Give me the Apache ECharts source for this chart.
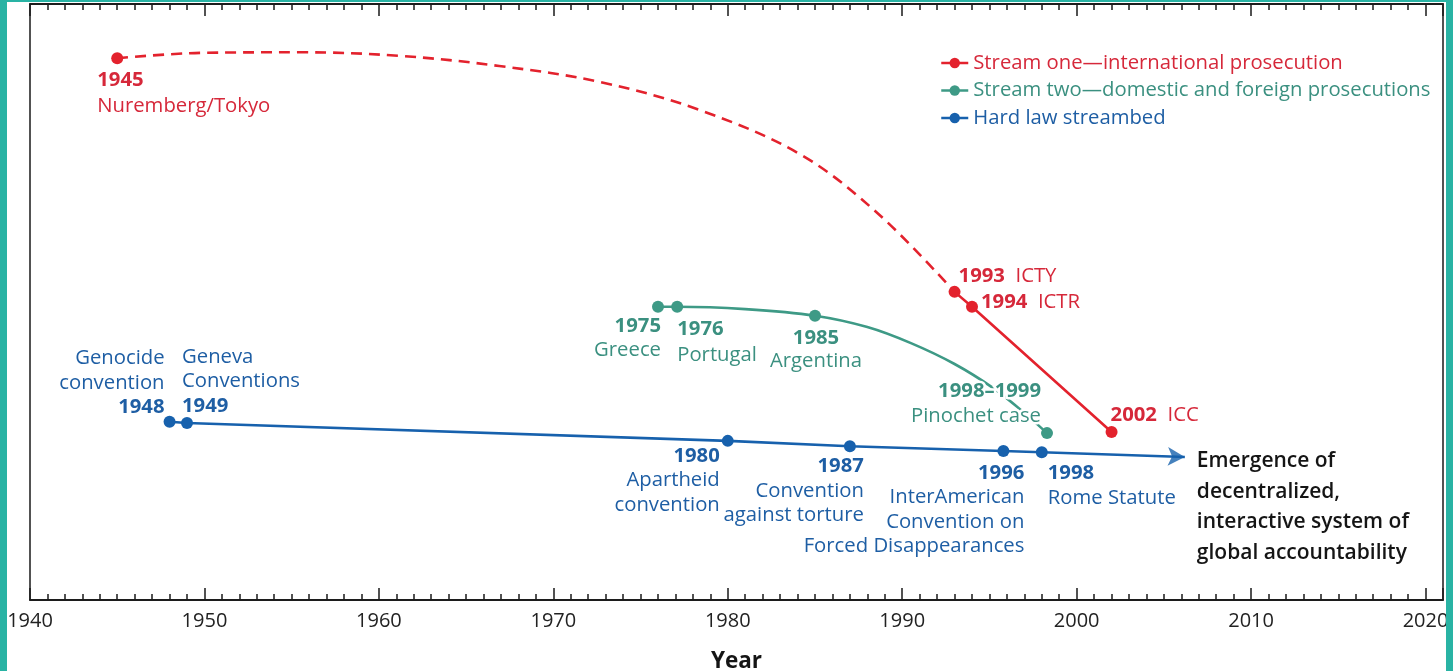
<!DOCTYPE html>
<html><head><meta charset="utf-8">
<script src="https://cdn.jsdelivr.net/npm/echarts@6/dist/echarts.min.js"></script>
<style>
html,body{margin:0;padding:0;background:#29b3a4;width:1453px;height:671px;overflow:hidden}
#c{position:absolute;left:7px;top:2px;width:1439px;height:669px;background:#fff}
</style>
</head><body><div id="c"></div>
<script>
// ---------- DATA ----------
const xTickLabels = [1940, 1950, 1960, 1970, 1980, 1990, 2000, 2010, 2020];
const seriesNames = ['Stream one\u2014international prosecution', 'Stream two\u2014domestic and foreign prosecutions', 'Hard law streambed'];

// Stream one (events)
const redYears  = [1945, 1993, 1994, 2002];
const redLevels = [90.9, 51.7, 49.2, 28.2];
const redTitles = ['1945', '1993', '1994', '2002'];
const redNames  = ['Nuremberg/Tokyo', 'ICTY', 'ICTR', 'ICC'];
// dashed path between 1945 and 1993
const redCurveYears  = [1949.8, 1955.5, 1961.2, 1966.9, 1972.7, 1978.4, 1984.2, 1988.7];
const redCurveLevels = [91.8, 91.9, 91.3, 89.6, 86.9, 82.2, 74.7, 64.6];

// Stream two (events)
const greenYears  = [1976, 1977.1, 1985, 1998.3];
const greenLevels = [49.2, 49.2, 47.7, 28.0];
const greenTitles = ['1975', '1976', '1985', '1998\u20131999'];
const greenNames  = ['Greece', 'Portugal', 'Argentina', 'Pinochet case'];
// path points between events
const greenCurveYears  = [1981, 1988, 1990.5, 1993, 1995.2, 1996.8];
const greenCurveLevels = [48.8, 45.8, 43.1, 39.6, 35.6, 31.9];

// Hard law streambed
const blueYears  = [1948, 1949, 1980, 1987, 1995.8, 1998];
const blueLevels = [29.9, 29.7, 26.7, 25.8, 25.0, 24.8];
const blueTitles = ['1948', '1949', '1980', '1987', '1996', '1998'];
const blueNames  = ['Genocide|convention', 'Geneva|Conventions', 'Apartheid|convention', 'Convention|against torture', 'InterAmerican|Convention on|Forced Disappearances', 'Rome Statute'];
const blueArrowYear = 2006.2;
const blueArrowLevel = 24.0;
const outcomeLines = ['Emergence of', 'decentralized,', 'interactive system of', 'global accountability'];

// ---------- STYLE / LAYOUT ----------
const RED = '#e3222d', RED_T = '#d6283a';
const GREEN = '#3e9a86', GREEN_T = '#3b9080';
const BLUE = '#1761ad', BLUE_T = '#1e5ea4';
const FONT = '"Open Sans", "Noto Sans", sans-serif';
const FS = 20.3;
const DOT = 12;

// label layouts: [align, verticalAlign, dx, dy, lineHeight, mode]
const redLayout = [
  ['left', 'top', -20, 9, 26, 'stack'],
  ['left', 'middle', 4, -16, 26, 'inline'],
  ['left', 'middle', 9, -5, 26, 'inline'],
  ['left', 'middle', -1, -17, 26, 'inline']
];
const greenLayout = [
  ['right', 'top', 3, 7, 24, 'stack'],
  ['left', 'top', 0, 9, 26, 'stack'],
  ['center', 'top', 1, 11, 23, 'stack'],
  ['right', 'bottom', -6, -4, 25, 'stack']
];
const blueLayout = [
  ['right', 'bottom', -5, -2, 24.5, 'yearLast'],
  ['left', 'bottom', -5, -5, 24.5, 'yearLast'],
  ['right', 'top', -8, 3, 24.5, 'stack'],
  ['right', 'top', 14, 8, 24.5, 'stack'],
  ['right', 'top', 21, 10, 24.3, 'stack'],
  ['left', 'top', 6, 9, 24.5, 'stack']
];

function makeLabel(title, name, layout, color, halo) {
  const [align, vAlign, dx, dy, lh, mode] = layout;
  const nameParts = name.split('|').map(s => '{n|' + s + '}');
  let fmt;
  if (mode === 'inline') fmt = '{b|' + title + '}  {n|' + name + '}';
  else if (mode === 'yearLast') fmt = nameParts.join('\n') + '\n{b|' + title + '}';
  else fmt = '{b|' + title + '}\n' + nameParts.join('\n');
  const base = { fontFamily: FONT, fontSize: FS, color: color, lineHeight: lh };
  if (halo) { base.textBorderColor = '#fff'; base.textBorderWidth = 5; }
  return {
    show: true,
    position: ['50%', '50%'],
    align: align,
    verticalAlign: vAlign,
    offset: [dx, dy],
    formatter: fmt,
    fontFamily: FONT, fontSize: FS, color: color, lineHeight: lh,
    rich: {
      b: Object.assign({}, base, { fontWeight: 'bold' }),
      n: Object.assign({}, base, { fontWeight: 'normal' })
    }
  };
}

function eventItem(x, y, title, name, layout, color, halo) {
  return { value: [x, y], symbolSize: DOT, label: makeLabel(title, name, layout, color, halo) };
}
function pathItem(x, y) { return { value: [x, y], symbolSize: 0, label: { show: false } }; }

// red dashed: 1945 origin + curve + 1993
const redDashData = [eventItem(redYears[0], redLevels[0], redTitles[0], redNames[0], redLayout[0], RED_T)]
  .concat(redCurveYears.map((x, i) => pathItem(x, redCurveLevels[i])))
  .concat([pathItem(redYears[1], redLevels[1])]);
const redSolidData = redYears.slice(1).map((x, i) =>
  eventItem(x, redLevels[i + 1], redTitles[i + 1], redNames[i + 1], redLayout[i + 1], RED_T));

const greenData = greenYears.map((x, i) => eventItem(x, greenLevels[i], greenTitles[i], greenNames[i], greenLayout[i], GREEN_T, true))
  .concat(greenCurveYears.map((x, i) => pathItem(x, greenCurveLevels[i])))
  .sort((a, b) => a.value[0] - b.value[0]);

const blueData = blueYears.map((x, i) => eventItem(x, blueLevels[i], blueTitles[i], blueNames[i], blueLayout[i], BLUE_T));
blueData.push({
  value: [blueArrowYear, blueArrowLevel], symbolSize: 0,
  label: {
    show: true, position: ['50%', '50%'], align: 'left', verticalAlign: 'top', offset: [12, -11],
    formatter: outcomeLines.join('\n'),
    fontFamily: FONT, fontSize: 21, fontWeight: 600, color: '#151515', lineHeight: 30.5
  }
});

const tickAxisCommon = {
  type: 'value', min: 1940, max: 2021, gridIndex: 0,
  splitLine: { show: false },
  axisLine: { show: true, lineStyle: { color: '#1a1a1a', width: 1.5 } }
};

const option = {
  animation: false,
  backgroundColor: '#fff',
  grid: { left: 23, right: 3, top: 2, bottom: 71, show: true, borderColor: '#1a1a1a', borderWidth: 1.5,
    containLabel: false, outerBoundsMode: 'none' },
  legend: {
    orient: 'vertical', left: 928, top: 46, itemGap: 7.5, itemWidth: 27, itemHeight: 13,
    textStyle: { fontFamily: FONT, fontSize: FS },
    data: [
      { name: seriesNames[0], textStyle: { color: RED_T }, lineStyle: { type: 'solid', color: RED, width: 2.5 }, itemStyle: { color: RED } },
      { name: seriesNames[1], textStyle: { color: GREEN_T }, lineStyle: { type: 'solid', color: GREEN, width: 2.5 }, itemStyle: { color: GREEN } },
      { name: seriesNames[2], textStyle: { color: BLUE_T }, lineStyle: { type: 'solid', color: BLUE, width: 2.5 }, itemStyle: { color: BLUE } }
    ],
    selectedMode: false
  },
  xAxis: [
    Object.assign({}, tickAxisCommon, {
      position: 'bottom', interval: 10,
      axisTick: { show: true, inside: true, length: 12, lineStyle: { color: '#1a1a1a', width: 1.5 } },
      axisLabel: { show: true, margin: 11, fontFamily: FONT, fontSize: 20, color: '#222',
        formatter: v => (xTickLabels.indexOf(v) >= 0 ? String(v) : '') },
      name: 'Year', nameLocation: 'middle', nameGap: 50,
      nameTextStyle: { fontFamily: FONT, fontSize: 22.5, fontWeight: 'bold', color: '#151515' }
    }),
    Object.assign({}, tickAxisCommon, {
      position: 'bottom', interval: 1,
      axisTick: { show: true, inside: true, length: 6, lineStyle: { color: '#1a1a1a', width: 1.5 } },
      axisLabel: { show: false }
    }),
    Object.assign({}, tickAxisCommon, {
      position: 'top', interval: 10,
      axisTick: { show: true, inside: true, length: 12, lineStyle: { color: '#1a1a1a', width: 1.5 } },
      axisLabel: { show: false }
    }),
    Object.assign({}, tickAxisCommon, {
      position: 'top', interval: 1,
      axisTick: { show: true, inside: true, length: 6, lineStyle: { color: '#1a1a1a', width: 1.5 } },
      axisLabel: { show: false }
    })
  ],
  yAxis: { type: 'value', min: 0, max: 100, show: false },
  series: [
    {
      name: seriesNames[0], type: 'line', xAxisIndex: 0, smooth: 0.35,
      data: redDashData, symbol: 'circle',
      lineStyle: { color: RED, width: 2.6, type: [11, 7] }, itemStyle: { color: RED }, z: 3
    },
    {
      name: seriesNames[0], type: 'line', xAxisIndex: 0,
      data: redSolidData, symbol: 'circle',
      lineStyle: { color: RED, width: 2.6 }, itemStyle: { color: RED }, z: 3
    },
    {
      name: seriesNames[1], type: 'line', xAxisIndex: 0, smooth: 0.3,
      data: greenData, symbol: 'circle',
      lineStyle: { color: GREEN, width: 2.6 }, itemStyle: { color: GREEN }, z: 2
    },
    {
      name: seriesNames[2], type: 'line', xAxisIndex: 0,
      data: blueData, symbol: 'circle',
      lineStyle: { color: BLUE, width: 2.6 }, itemStyle: { color: BLUE }, z: 2
    },
    {
      name: 'arrowhead', type: 'scatter', xAxisIndex: 0,
      data: [[blueArrowYear, blueArrowLevel]],
      symbol: 'arrow', symbolSize: [14, 17], symbolRotate: -92,
      itemStyle: { color: BLUE }, z: 2, silent: true
    }
  ]
};
echarts.init(document.getElementById('c'), null, { renderer: 'canvas' }).setOption(option);
</script>
</body></html>
